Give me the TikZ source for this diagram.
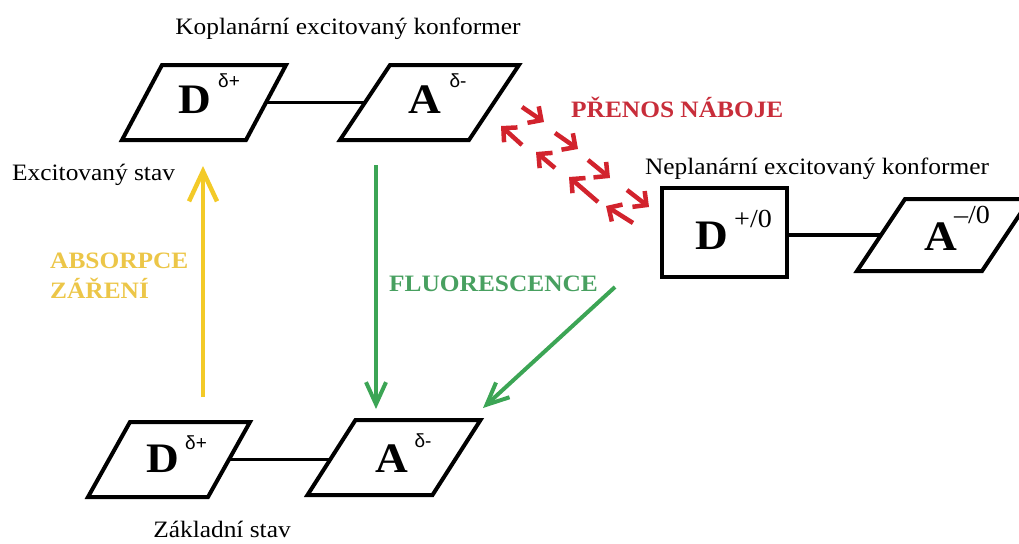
\documentclass[tikz,border=0pt]{standalone}
\usepackage{fontspec}
\setmainfont{Liberation Serif}[FakeStretch=1.08]
\newfontfamily\sansf{Liberation Sans}
\usetikzlibrary{arrows.meta}
\definecolor{cyel}{RGB}{243,202,40}
\definecolor{cyelt}{RGB}{236,198,72}
\definecolor{cgrn}{RGB}{60,165,85}
\definecolor{cgrnt}{RGB}{72,160,96}
\definecolor{cred}{RGB}{210,35,45}
\definecolor{credt}{RGB}{200,45,58}
\newcommand\parabox[2]{\draw[boxline] ([xshift=#2]#1.north west) -- ([xshift=#2]#1.north east) -- ([xshift=-#2]#1.south east) -- ([xshift=-#2]#1.south west) -- cycle;}
\begin{document}
\begin{tikzpicture}[x=1pt,y=-1pt,
  frame/.style={minimum width=#1, inner sep=0pt, outer sep=0pt},
  boxline/.style={line width=4pt, line join=miter},
  link/.style={line width=3.5pt},
  lab/.style={inner sep=0pt, font=\fontsize{23.5}{26}\selectfont},
  blab/.style={inner sep=0pt, font=\bfseries\fontsize{23.5}{26}\selectfont},
  big/.style={inner sep=0pt, font=\bfseries\fontsize{42}{42}\selectfont},
  supd/.style={inner sep=0pt, font=\sansf\fontsize{19}{19}\selectfont},
  supn/.style={inner sep=0pt, font=\fontsize{26}{26}\selectfont},
  yarrow/.style={draw=cyel, line width=4.5pt, -{Straight Barb[length=30pt,width=28pt]}},
  garrow/.style={draw=cgrn, line width=4pt, -{Straight Barb[length=22pt,width=20pt]}},
  rarrow/.style={draw=cred, line width=4.5pt, -{Straight Barb[length=10pt,width=20pt]}}
]
\useasboundingbox (0,0) rectangle (1019,543);

% boxes
\node[frame=124, minimum height=75pt] (d1) at (204,102.5) {};
\node[frame=129, minimum height=75pt] (a1) at (429.5,102.5) {};
\node[frame=120, minimum height=75pt] (d2) at (169,459.5) {};
\node[frame=125, minimum height=75pt] (a2) at (394,457.5) {};
\node[frame=125, minimum height=89pt, draw, line width=4pt] (d3) at (724.5,232.5) {};
\node[frame=125, minimum height=72pt] (a3) at (943.5,235) {};
\parabox{d1}{20pt}
\parabox{a1}{25pt}
\parabox{d2}{21pt}
\parabox{a2}{24pt}
\parabox{a3}{24pt}

% bonds
\draw[link] (d1.east) -- (a1.west);
\draw[link] (d2.east) -- (d2.east -| a2.west);
\draw[link] (a3.west -| d3.east) -- (a3.west);

% letters
\node[big] (dl1) at (195,100) {D};
\node[supd] (ds1) at (229,81) {δ+};
\node[big] (al1) at (425,100) {A};
\node[supd] (as1) at (458,81) {δ-};
\node[big] (dl2) at (163,459) {D};
\node[supd] (ds2) at (196,443) {δ+};
\node[big] (al2) at (392,459) {A};
\node[supd] (as2) at (423,441) {δ-};
\node[big] (dl3) at (712,236) {D};
\node[supn] (ds3) at (753,219) {+/0};
\node[big] (al3) at (941,237) {A};
\node[supn] (as3) at (972,215) {–/0};

% labels
\node[lab, anchor=base] (t1) at (348,35) {Koplanární excitovaný konformer};
\node[lab, anchor=base west] (t2) at (12,180) {Excitovaný stav};
\node[lab, anchor=base] (t3) at (817,174) {Neplanární excitovaný konformer};
\node[lab, anchor=base] (t6) at (222,537) {Základní stav};
\node[blab, anchor=base west, text=credt] (t4) at (571,117) {PŘENOS NÁBOJE};
\node[blab, anchor=base west, text=cyelt] (t5a) at (50,268) {ABSORPCE};
\node[blab, anchor=base west, text=cyelt] (t5b) at (50,298) {ZÁŘENÍ};
\node[blab, anchor=base west, text=cgrnt] (t7) at (389,291) {FLUORESCENCE};

% arrows
\coordinate (ys) at (203,397);
\coordinate (ye) at (203,166);
\draw[yarrow] (ys) -- (ye);
\coordinate (gs1) at (376,165);
\coordinate (ge1) at (376,409);
\draw[garrow] (gs1) -- (ge1);
\coordinate (gs2) at (615,287);
\coordinate (ge2) at (483,408);
\draw[garrow] (gs2) -- (ge2);

% charge transfer arrows
\foreach \i/\sx/\sy/\ex/\ey in {1/522/107/544/122, 2/555/133/578/149, 3/588/160/610/178, 4/627/190/649/207,
  5/522/145/501/126, 6/555/168/536/152, 7/598/202/569/177, 8/633/223/606/206}{
  \coordinate (rs\i) at (\sx,\sy);
  \coordinate (re\i) at (\ex,\ey);
  \draw[rarrow] (rs\i) -- (re\i);
}
\end{tikzpicture}
\end{document}
